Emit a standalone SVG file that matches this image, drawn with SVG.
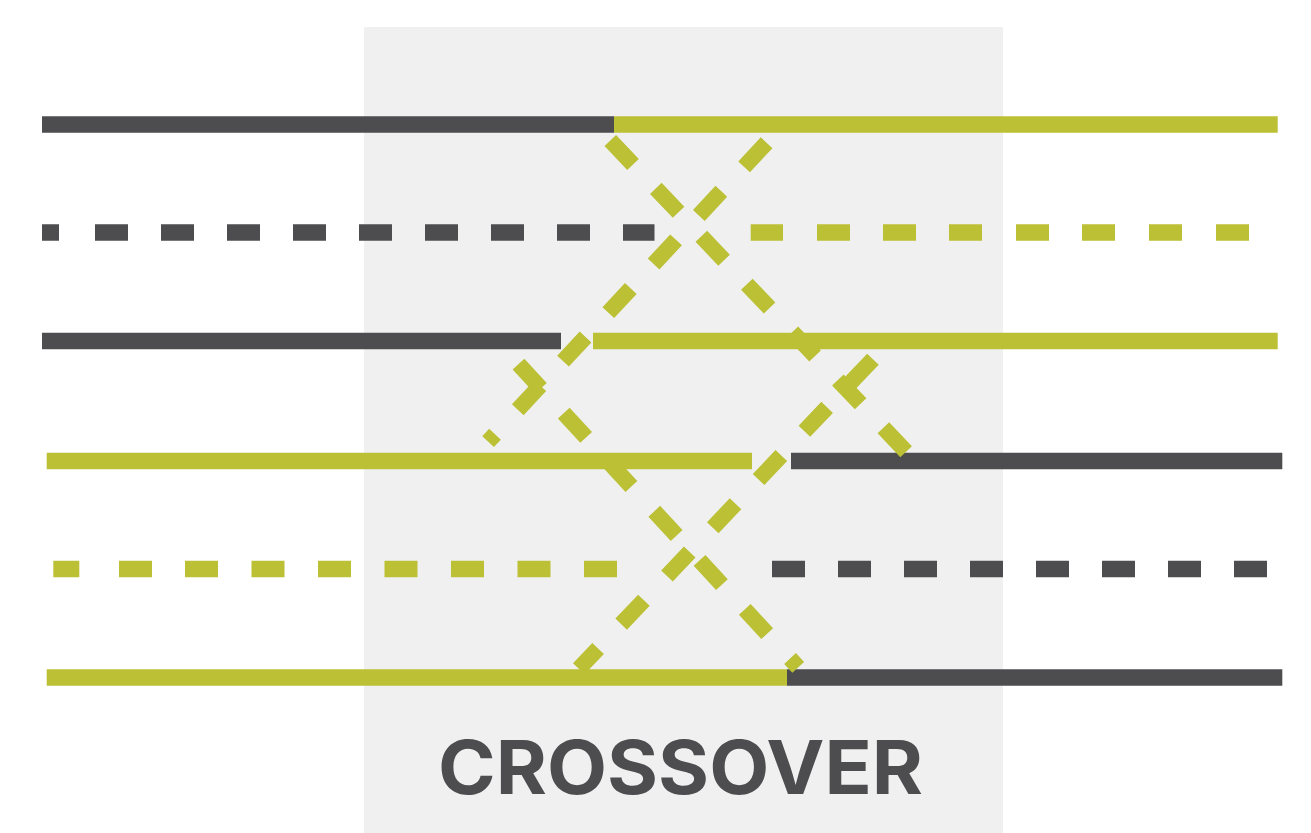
<svg xmlns="http://www.w3.org/2000/svg" width="1311" height="833" viewBox="0 0 1311 833">
  <style>
    .dk { stroke: #4d4d4f; stroke-width: 16.5; fill: none; stroke-linecap: butt; }
    .gr { stroke: #bbc035; stroke-width: 16.5; fill: none; stroke-linecap: butt; }
    .diag { stroke: #bbc035; stroke-width: 16; fill: none; stroke-linecap: butt; stroke-dasharray: 33 33.5; }
    .label { font-family: Inter, "Open Sans", "Liberation Sans", sans-serif; font-weight: 700; font-size: 74px; fill: #4d4d4f; }
  </style>
  <rect width="1311" height="833" fill="#ffffff"/>
  <rect id="crossover-zone" x="364" y="27" width="639" height="806" fill="#f0f0f0"/>

  <g id="line1">
    <path class="dk" d="M42 124.4H614"/>
    <path class="gr" d="M614 124.4H1277.7"/>
  </g>
  <g id="line2">
    <path class="dk" d="M42 232.5H59M95 232.5H128M161 232.5H194M227 232.5H260M293 232.5H326M359 232.5H392M425 232.5H458M491 232.5H524M557 232.5H590M623 232.5H654.5"/>
    <path class="gr" d="M750.7 232.5H783M817 232.5H850M883 232.5H916M949 232.5H982M1016 232.5H1049M1082 232.5H1115M1149 232.5H1182M1216 232.5H1249"/>
  </g>
  <g id="line3">
    <path class="dk" d="M42 341H561"/>
    <path class="gr" d="M593 341H1277.7"/>
  </g>
  <g id="line4">
    <path class="gr" d="M46.7 461H752"/>
    <path class="dk" d="M791 461H1282.3"/>
  </g>
  <g id="line5">
    <path class="gr" d="M53.3 569H79.3M119 569H152M185 569H218M251.5 569H284.5M318 569H351M384.5 569H417.5M451 569H484M517.5 569H550.5M584 569H617"/>
    <path class="dk" d="M772 569H805M838 569H871M904 569H937M970 569H1003M1036 569H1069M1102 569H1135M1168 569H1201M1234 569H1267"/>
  </g>
  <g id="line6">
    <path class="gr" d="M46.7 677.5H787"/>
    <path class="dk" d="M787 677.5H1282.3"/>
  </g>

  <g id="connectors">
    <path class="diag" d="M610.3 140.5L906.2 451.8" style="stroke-dasharray:33 33.06"/>
    <path class="diag" d="M766.6 142.7L488.1 441.6" style="stroke-dasharray:33 33.4"/>
    <path class="diag" d="M518.5 364.1L798.2 667.3" style="stroke-dasharray:33 33.75"/>
    <path class="diag" d="M578.8 668.7L873 359.1" stroke-dashoffset="5"/>
  </g>

  <g id="label">
    <text class="label" x="680.5" y="794" text-anchor="middle" textLength="485" lengthAdjust="spacingAndGlyphs">CROSSOVER</text>
  </g>
</svg>
